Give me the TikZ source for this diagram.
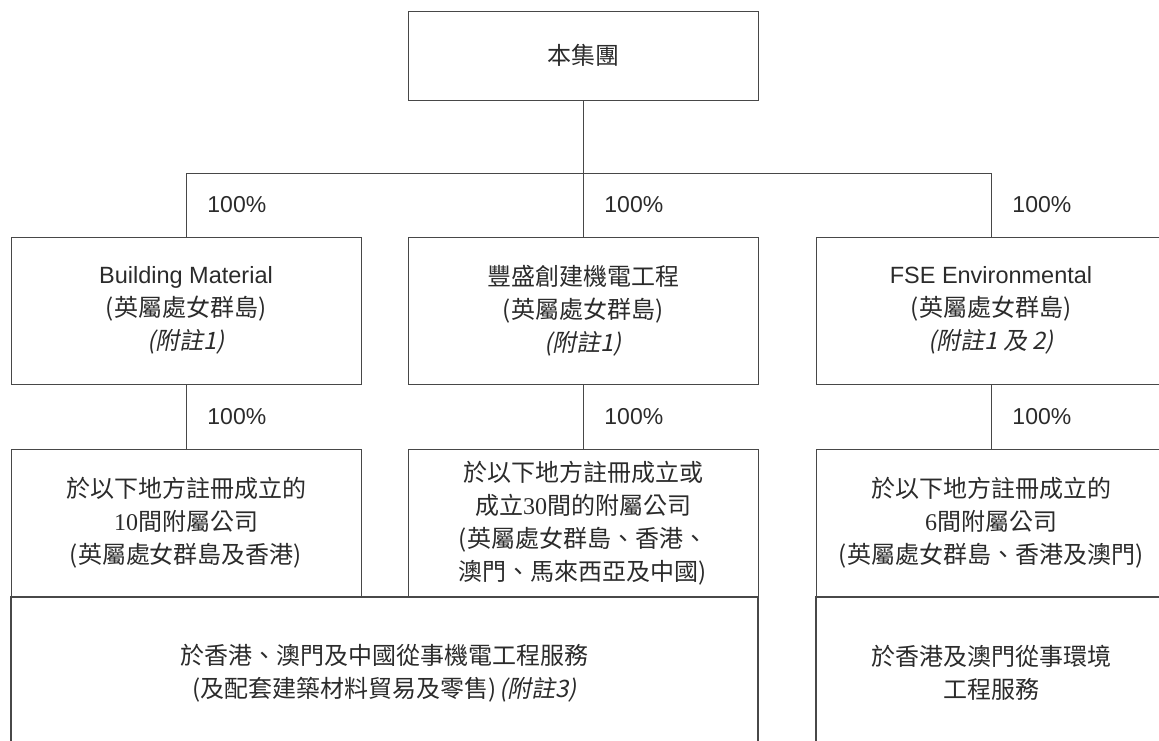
\documentclass[tikz,border=0pt]{standalone}
\usepackage{fontspec}
\setmainfont{Noto Sans CJK TC}
\newfontfamily\latin{Liberation Sans}
\newfontfamily\serifnum{Liberation Serif}
\newfontfamily\noteit[FakeSlant=0.2]{Noto Sans CJK TC}
\usepackage{tikz}
\definecolor{ink}{HTML}{2B2B2B}
\definecolor{rule}{HTML}{484848}

\begin{document}
\begin{tikzpicture}[x=1pt, y=-1pt,
        box/.style={draw=rule, line width=0.9pt, minimum width=350, minimum height=147,
                align=center, inner sep=0pt, text=ink, font=\fontsize{24}{33}\selectfont},
        bigbox/.style={box, line width=1.8pt, minimum height=152},
        pct/.style={anchor=west, inner sep=0pt, xshift=21, text=ink, font=\latin\fontsize{23}{28}\selectfont}]
        \useasboundingbox (0,0) rectangle (1159,740);
        \clip (0,0) rectangle (1159,740);
        \node[box, minimum height=89] (group) at (583,55.5) {本集團};
        \node[box] (bm) at (186,310.5) {{\latin\fontsize{23.5}{33}\selectfont Building Material}\\(英屬處女群島)\\{\noteit(附註1)}};
        \node[box] (fse) at (583,310.5) {豐盛創建機電工程\\(英屬處女群島)\\{\noteit(附註1)}};
        \node[box] (env) at (991,310.5) {{\latin\fontsize{23.5}{33}\selectfont FSE Environmental}\\(英屬處女群島)\\{\noteit(附註1 及 2)}};
        \node[box, minimum height=148] (bmsub) at (186,523) {於以下地方註冊成立的\\{\serifnum 10}間附屬公司\\(英屬處女群島及香港)};
        \node[box, minimum height=148] (fsesub) at (583,523) {於以下地方註冊成立或\\成立{\serifnum 30}間的附屬公司\\(英屬處女群島、香港、\\澳門、馬來西亞及中國)};
        \node[box, minimum height=148] (envsub) at (991,523) {於以下地方註冊成立的\\{\serifnum 6}間附屬公司\\(英屬處女群島、香港及澳門)};
        \node[bigbox, minimum width=747] (mepwork) at (384.5,673) {於香港、澳門及中國從事機電工程服務\\(及配套建築材料貿易及零售)\kern3pt{\noteit(附註3)}};
        \node[bigbox] (envwork) at (991,673) {於香港及澳門從事環境\\工程服務};
        % bus under the group
        \coordinate (hub) at (583,173);
        \coordinate (busL) at (186,173);
        \coordinate (busR) at (991,173);
        \begin{scope}[draw=rule, line width=0.9pt]
                \draw (group) -- (hub);
                \draw (busL) -- (busR);
                \draw (busL) -- node[pct] {100\%} (bm);
                \draw (hub) -- node[pct] {100\%} (fse);
                \draw (busR) -- node[pct] {100\%} (env);
                \draw (bm) -- node[pct] {100\%} (bmsub);
                \draw (fse) -- node[pct] {100\%} (fsesub);
                \draw (env) -- node[pct] {100\%} (envsub);
        \end{scope}
\end{tikzpicture}
\end{document}
